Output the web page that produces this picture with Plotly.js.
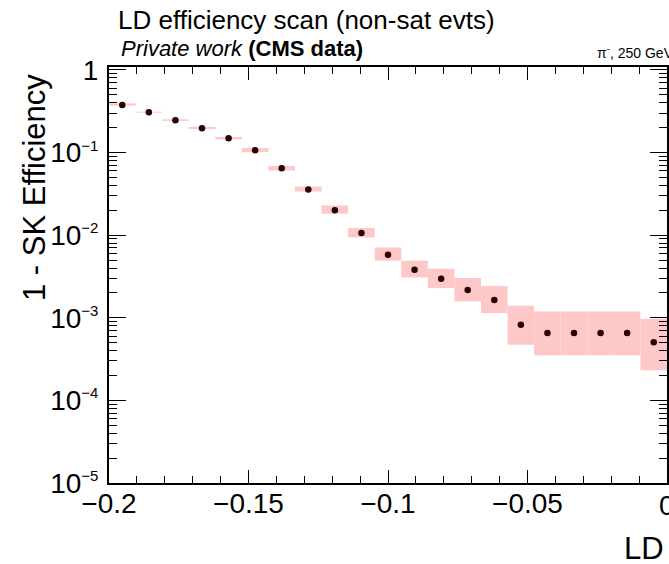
<!DOCTYPE html>
<html>
<head>
<meta charset="utf-8">
<script src="https://cdn.plot.ly/plotly-3.0.1.min.js"></script>
<style>html,body{margin:0;padding:0;background:#fff;}#chart{width:669px;height:564px;}</style>
</head>
<body>
<div id="chart"></div>
<script>
// Bin centres of LD (21 bins between -0.2 and 0)
const binCenters = [-0.19524, -0.18571, -0.17619, -0.16667, -0.15714, -0.14762, -0.13810,
  -0.12857, -0.11905, -0.10952, -0.10000, -0.09048, -0.08095, -0.07143, -0.06190,
  -0.05238, -0.04286, -0.03333, -0.02381, -0.01429, -0.00476];
const binWidth = 0.2 / 21;
// 1 - SK efficiency
const ineff = [0.377, 0.308, 0.246, 0.197, 0.149, 0.107, 0.0647, 0.0357, 0.0201, 0.0106,
  0.00579, 0.00382, 0.00297, 0.00217, 0.00164, 0.000826, 0.000655, 0.000655, 0.000655,
  0.000655, 0.000504];
// uncertainty band: lower and upper bounds
const errLow = [0.370, 0.305, 0.242, 0.193, 0.144, 0.101, 0.0606, 0.0338, 0.0182, 0.00938,
  0.00491, 0.00308, 0.00229, 0.00158, 0.00114, 0.000473, 0.000351, 0.000351, 0.000351,
  0.000351, 0.000231];
const errHigh = [0.394, 0.313, 0.253, 0.205, 0.155, 0.113, 0.0690, 0.0388, 0.0229, 0.0122,
  0.00710, 0.00491, 0.00393, 0.00303, 0.00242, 0.00140, 0.00119, 0.00119, 0.00119,
  0.00119, 0.000975];
const yTickVals = [1e-5, 1e-4, 1e-3, 1e-2, 1e-1, 1];
const supS = s => '10<sup><span style="font-size:15px">' + s + '</span></sup>';
const yTickText = [supS('\u22125'), supS('\u22124'), supS('\u22123'), supS('\u22122'), supS('\u22121'), '1'];
const xTickVals = [-0.2, -0.15, -0.1, -0.05, 0];
const xTickText = ['\u22120.2', '\u22120.15', '\u22120.1', '\u22120.05', '0'];
const xMinorVals = [-0.19, -0.18, -0.17, -0.16, -0.14, -0.13, -0.12, -0.11, -0.09, -0.08,
  -0.07, -0.06, -0.04, -0.03, -0.02, -0.01];

// minor log ticks 2..9 per decade
const yMinor = [];
for (let e = -5; e < 0; e++) for (let m = 2; m <= 9; m++) yMinor.push(m * Math.pow(10, e));

const W = 669, H = 564;
const L = 109, R = 2, T = 67, B = 81;
const pw = W - L - R, ph = H - T - B;
const px = x => (x - L) / pw;
const py = y => (H - B - y) / ph;

const band = {
  type: 'bar', x: binCenters, base: errLow,
  y: errHigh.map((h, i) => h - errLow[i]),
  width: binWidth,
  marker: {color: '#ffc8c8', line: {width: 0}},
  hoverinfo: 'skip', showlegend: false
};
const pts = {
  type: 'scatter', mode: 'markers', x: binCenters, y: ineff,
  marker: {color: '#2a0000', size: 6.5},
  showlegend: false
};

const font = 'Liberation Sans, Arial, Helvetica, sans-serif';
const layout = {
  width: W, height: H,
  margin: {l: L, r: R, t: T, b: B, pad: 0},
  paper_bgcolor: '#fff', plot_bgcolor: '#fff',
  barmode: 'overlay',
  font: {family: font, color: '#000'},
  xaxis: {
    range: [-0.2, 0], tickvals: xTickVals, ticktext: xTickText,
    ticks: 'inside', ticklen: 13, tickwidth: 1, tickcolor: '#000',
    minor: {tickvals: xMinorVals, ticks: 'inside', ticklen: 7, tickwidth: 1, tickcolor: '#000', showgrid: false},
    showline: true, linewidth: 2, linecolor: '#000', mirror: 'allticks',
    showgrid: false, zeroline: false,
    tickfont: {family: font, size: 28, color: '#000'},
    ticklabelstandoff: -6
  },
  yaxis: {
    type: 'log', range: [-5, 0.036],
    tickvals: yTickVals, ticktext: yTickText,
    ticks: 'inside', ticklen: 17, tickwidth: 1, tickcolor: '#000',
    minor: {tickvals: yMinor, ticks: 'inside', ticklen: 8, tickwidth: 1, tickcolor: '#000', showgrid: false},
    showline: true, linewidth: 2, linecolor: '#000', mirror: 'allticks',
    showgrid: false, zeroline: false,
    tickfont: {family: font, size: 28, color: '#000'},
    ticklabelstandoff: 3
  },
  annotations: [
    {xref: 'paper', yref: 'paper', x: px(116), y: py(20), xanchor: 'left', yanchor: 'middle',
     text: 'LD efficiency scan (non-sat evts)', showarrow: false,
     font: {family: font, size: 26, color: '#000'}},
    {xref: 'paper', yref: 'paper', x: px(119), y: py(49), xanchor: 'left', yanchor: 'middle',
     text: '<i>Private work</i> <b>(CMS data)</b>', showarrow: false,
     font: {family: font, size: 22, color: '#000'}},
    {xref: 'paper', yref: 'paper', x: px(595), y: py(52), xanchor: 'left', yanchor: 'middle',
     text: '\u03c0<sup>-</sup>, 250 GeV', showarrow: false,
     font: {family: font, size: 14, color: '#000'}},
    {xref: 'paper', yref: 'paper', x: px(34), y: py(188), xanchor: 'center', yanchor: 'middle',
     text: '1 - SK Efficiency', textangle: -90, showarrow: false,
     font: {family: font, size: 31, color: '#000'}},
    {xref: 'paper', yref: 'paper', x: px(667), y: py(505), xanchor: 'center', yanchor: 'middle',
     text: '0', showarrow: false,
     font: {family: font, size: 28, color: '#000'}},
    {xref: 'paper', yref: 'paper', x: px(666), y: py(548), xanchor: 'right', yanchor: 'middle',
     text: 'LD', showarrow: false,
     font: {family: font, size: 31, color: '#000'}}
  ]
};
Plotly.newPlot('chart', [band, pts], layout, {staticPlot: true, displayModeBar: false});
</script>
</body>
</html>
